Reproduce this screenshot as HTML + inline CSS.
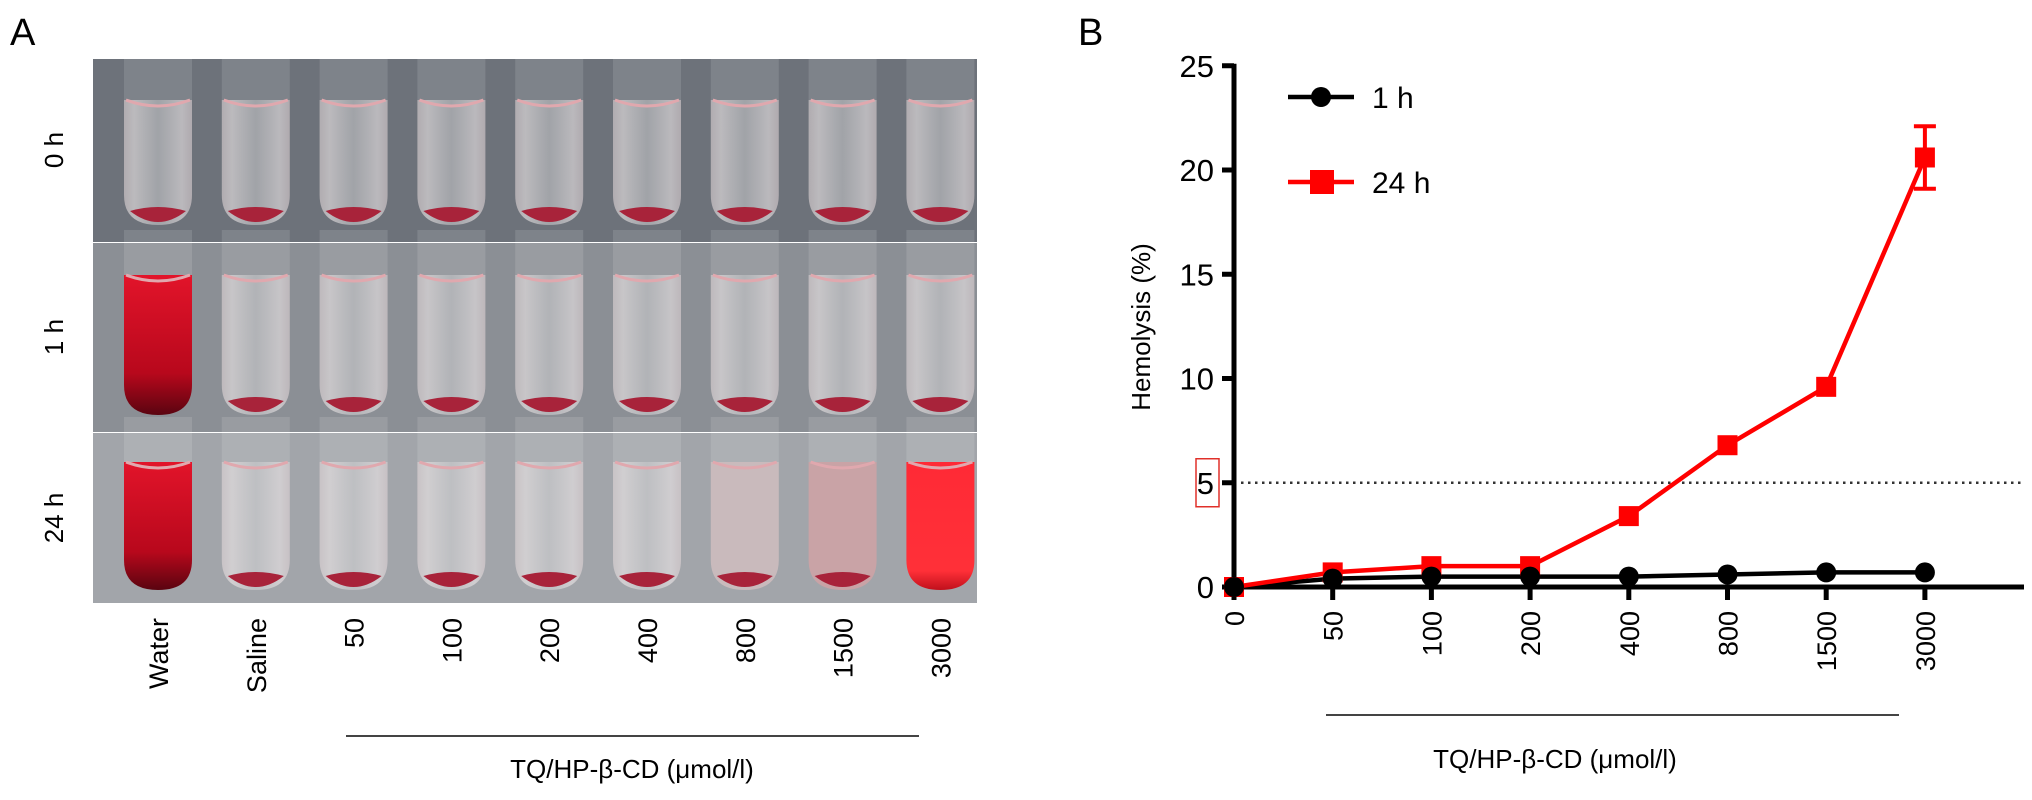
<!DOCTYPE html>
<html><head><meta charset="utf-8">
<style>
html,body{margin:0;padding:0;background:#fff;}
svg{display:block;font-family:"Liberation Sans",Arial,sans-serif;}
</style></head>
<body>
<svg id="fig" width="2032" height="800" viewBox="0 0 2032 800" xmlns="http://www.w3.org/2000/svg">
<defs>
  <linearGradient id="tubeG" x1="0" x2="1" y1="0" y2="0">
    <stop offset="0" stop-color="#e8dcdd" stop-opacity="0.55"/><stop offset="0.15" stop-color="#f0eaea" stop-opacity="0.6"/>
    <stop offset="0.5" stop-color="#e0dfe0" stop-opacity="0.45"/><stop offset="0.85" stop-color="#eee8e9" stop-opacity="0.6"/><stop offset="1" stop-color="#e6d8da" stop-opacity="0.55"/>
  </linearGradient>
  <linearGradient id="waterG" x1="0" x2="0" y1="0" y2="1">
    <stop offset="0" stop-color="#e2142a"/><stop offset="0.7" stop-color="#b8081c"/><stop offset="1" stop-color="#5a0410"/>
  </linearGradient>
  <linearGradient id="redG" x1="0" x2="0" y1="0" y2="1">
    <stop offset="0" stop-color="#ff2a36"/><stop offset="0.85" stop-color="#ff3038"/><stop offset="1" stop-color="#c0101c"/>
  </linearGradient>
</defs>

<text x="10" y="45" font-size="38">A</text>
<text x="1078" y="45" font-size="38">B</text>

<g id="photo">
  <rect x="93" y="59" width="884" height="183" fill="#6d727a"/>
  <rect x="93" y="243" width="884" height="189" fill="#8b8f95"/>
  <rect x="93" y="433" width="884" height="170" fill="#a2a5aa"/>
</g>

<g font-size="26">
  <text transform="translate(63,150) rotate(-90)" text-anchor="middle">0 h</text>
  <text transform="translate(63,337) rotate(-90)" text-anchor="middle">1 h</text>
  <text transform="translate(63,518) rotate(-90)" text-anchor="middle">24 h</text>
</g>
<g id="photoLabels" font-size="27"></g>
<line x1="346" y1="736" x2="919" y2="736" stroke="#444" stroke-width="2"/>
<text x="632" y="778" font-size="26" text-anchor="middle">TQ/HP-β-CD (μmol/l)</text>

<g id="chart"></g>
</svg>

<script>
// Panel A tube data
const tubeLabels = ["Water","Saline","50","100","200","400","800","1500","3000"];
const row1hFill = ["water","clear","clear","clear","clear","clear","clear","clear","clear"];
const row24hFill = ["water","clear","clear","clear","clear","clear","pinkish","pink","red"];

// Panel B chart data
const categories = ["0","50","100","200","400","800","1500","3000"];
const series1h = [0,0.4,0.5,0.5,0.5,0.6,0.7,0.7];
const series24h = [0,0.7,1.0,1.0,3.4,6.8,9.6,20.6];
const err24h = [0,0,0,0,0,0,0,1.5];
const yTicks = [0,5,10,15,20,25];
const thresholdValue = 5;

const NS = "http://www.w3.org/2000/svg";
function mk(tag, attrs, parent){const e=document.createElementNS(NS,tag);for(const k in attrs)e.setAttribute(k,attrs[k]);parent.appendChild(e);return e;}

// ---- Panel A tubes
const photo = document.getElementById('photo');
const tubeX = i => 158 + i*97.8;
const rows = [{top:70,bot:225,liq:100,fills:null},{top:250,bot:415,liq:275,fills:row1hFill},{top:437,bot:590,liq:462,fills:row24hFill}];
rows.forEach((r,ri)=>{
  tubeLabels.forEach((lab,i)=>{
    const cx=tubeX(i), w=68, x0=cx-w/2;
    const g=mk('g',{},photo);
    
    
    mk('rect',{x:x0,y:r.top-20,width:w,height:r.liq-r.top+20,fill:'#ffffff',opacity:0.12},g);
    const kind = r.fills?r.fills[i]:'clear';
    let fill='url(#tubeG)';
    if(kind==='water')fill='url(#waterG)';
    else if(kind==='red')fill='url(#redG)';
    else if(kind==='pink')fill='#c9a3a6';
    else if(kind==='pinkish')fill='#c9babc';
    mk('path',{d:`M${x0} ${r.liq} L${x0+w} ${r.liq} L${x0+w} ${r.bot-30} Q${x0+w} ${r.bot} ${cx} ${r.bot} Q${x0} ${r.bot} ${x0} ${r.bot-30} Z`,fill:fill},g);
    mk('path',{d:`M${x0+2} ${r.liq} Q${cx} ${r.liq+12} ${x0+w-2} ${r.liq}`,stroke:'#e0a8ae','stroke-width':3,fill:'none'},g);
    if(kind!=='water'&&kind!=='red')
      mk('path',{d:`M${x0+6} ${r.bot-14} Q${cx} ${r.bot-22} ${x0+w-6} ${r.bot-14} Q${cx} ${r.bot+8} ${x0+6} ${r.bot-14} Z`,fill:'#a8233a'},g);
  });
});
const pl=document.getElementById('photoLabels');
tubeLabels.forEach((lab,i)=>{
  const t=mk('text',{transform:`translate(${tubeX(i)+10},618) rotate(-90)`,'text-anchor':'end'},pl);
  t.textContent=lab;
  
  
});

// ---- Panel B
const chart=document.getElementById('chart');
const X0=1234, XSTEP=98.7, Y0=587, YPER=20.85;
const xPos = i => X0 + i*XSTEP;
const yPos = v => Y0 - v*YPER;

const th=mk('line',{x1:X0,y1:yPos(thresholdValue),x2:2024,y2:yPos(thresholdValue),stroke:'#333','stroke-width':2.5,'stroke-dasharray':'2.5 4.5'},chart);



const ya=mk('line',{x1:X0,y1:yPos(25)-2,x2:X0,y2:Y0+2,stroke:'#000','stroke-width':5},chart);


yTicks.forEach(v=>{
  const tk=mk('line',{x1:X0-12,y1:yPos(v),x2:X0,y2:yPos(v),stroke:'#000','stroke-width':5},chart);
  
  
  const t=mk('text',{x:X0-20,y:yPos(v)+11,'font-size':31,'text-anchor':'end'},chart);
  t.textContent=v;
  
  
});
const bx=mk('rect',{x:1196,y:yPos(5)-24,width:23,height:48,fill:'none',stroke:'#e0302a','stroke-width':1.5},chart);



const xa=mk('line',{x1:X0-12,y1:Y0,x2:2024,y2:Y0,stroke:'#000','stroke-width':5},chart);


categories.forEach((c,i)=>{
  const tk=mk('line',{x1:xPos(i),y1:Y0,x2:xPos(i),y2:Y0+13,stroke:'#000','stroke-width':5},chart);
  
  
  const t=mk('text',{transform:`translate(${xPos(i)+10},${Y0+24}) rotate(-90)`,'font-size':27,'text-anchor':'end'},chart);
  t.textContent=c;
  
  
});
const br=mk('line',{x1:1326,y1:715,x2:1899,y2:715,stroke:'#444','stroke-width':2},chart);


const xt=mk('text',{x:1555,y:768,'font-size':26,'text-anchor':'middle'},chart);
xt.textContent='TQ/HP-β-CD (μmol/l)';


const yt=mk('text',{transform:'translate(1150,327) rotate(-90)','font-size':26,'text-anchor':'middle'},chart);
yt.textContent='Hemolysis (%)';



const p1=mk('polyline',{points:series1h.map((v,i)=>xPos(i)+','+yPos(v)).join(' '),fill:'none',stroke:'#000','stroke-width':4.5},chart);


const p24=mk('polyline',{points:series24h.map((v,i)=>xPos(i)+','+yPos(v)).join(' '),fill:'none',stroke:'#f00','stroke-width':4.5},chart);


series24h.forEach((v,i)=>{
  if(err24h[i]>0){
    const e=mk('path',{d:`M${xPos(i)} ${yPos(v+err24h[i])} V${yPos(v-err24h[i])} M${xPos(i)-11} ${yPos(v+err24h[i])} H${xPos(i)+11} M${xPos(i)-11} ${yPos(v-err24h[i])} H${xPos(i)+11}`,stroke:'#f00','stroke-width':4,fill:'none'},chart);
    
    
  }
  const m=mk('rect',{x:xPos(i)-10,y:yPos(v)-10,width:20,height:20,fill:'#f00'},chart);
  
  
});
series1h.forEach((v,i)=>{
  const m=mk('circle',{cx:xPos(i),cy:yPos(v),r:10,fill:'#000'},chart);
  
  
});

const lg=mk('g',{},chart);


mk('line',{x1:1288,y1:97,x2:1354,y2:97,stroke:'#000','stroke-width':4.5},lg);
mk('circle',{cx:1321,cy:97,r:10,fill:'#000'},lg);
const l1=mk('text',{x:1372,y:108,'font-size':30},lg);
l1.textContent='1 h';


mk('line',{x1:1288,y1:182,x2:1354,y2:182,stroke:'#f00','stroke-width':4.5},lg);
mk('rect',{x:1310,y:170,width:24,height:24,fill:'#f00'},lg);
const l2=mk('text',{x:1372,y:193,'font-size':30},lg);
l2.textContent='24 h';


</script>
</body></html>
